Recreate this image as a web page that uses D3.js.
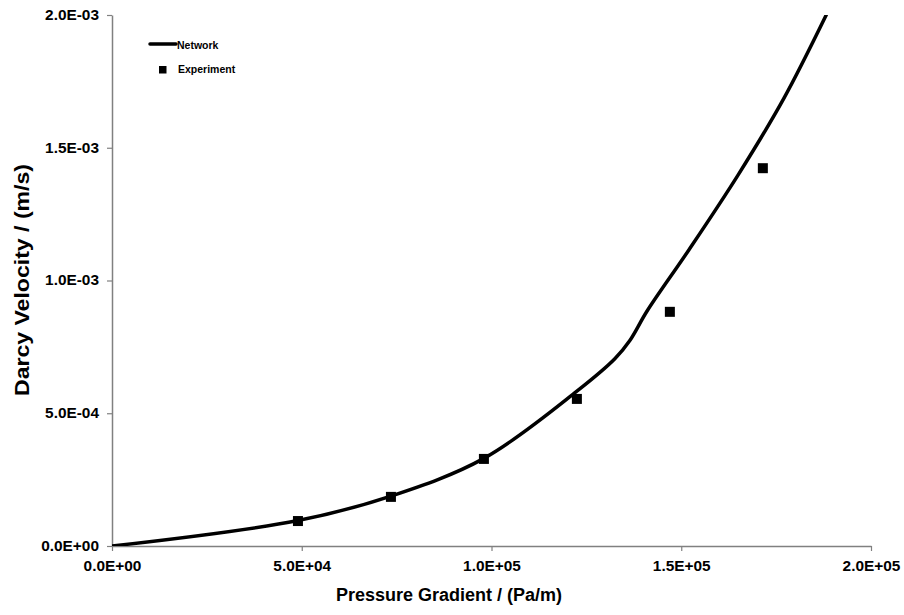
<!DOCTYPE html>
<html>
<head>
<meta charset="utf-8">
<script src="https://cdn.jsdelivr.net/npm/d3@7"></script>
<style>
  html, body { margin: 0; padding: 0; background: #fff; }
  text { font-family: "Liberation Sans", Arial, sans-serif; font-weight: bold; fill: #000; }
</style>
</head>
<body>
<svg id="chart" width="904" height="615"></svg>
<script>
// ---- data ----
const xTickValues = [0, 50000, 100000, 150000, 200000];
const xTickLabels = ["0.0E+00", "5.0E+04", "1.0E+05", "1.5E+05", "2.0E+05"];
const yTickValues = [0, 0.0005, 0.001, 0.0015, 0.002];
const yTickLabels = ["0.0E+00", "5.0E-04", "1.0E-03", "1.5E-03", "2.0E-03"];

const networkX = [0, 49000, 73500, 98000, 122500, 132500, 136500, 141000, 152000, 165000, 177000, 188200];
const networkY = [0, 0.000096, 0.000188, 0.00033, 0.000583, 0.000705, 0.000775, 0.000885, 0.001115, 0.001398, 0.001685, 0.002];

const expX = [49000, 73500, 98000, 122500, 147000, 171500];
const expY = [0.000094, 0.000185, 0.000328, 0.000554, 0.000882, 0.001423];

const seriesNames = ["Network", "Experiment"];
const xTitle = "Pressure Gradient / (Pa/m)";
const yTitle = "Darcy Velocity / (m/s)";

// ---- layout ----
const svg = d3.select("#chart");
const x = d3.scaleLinear().domain([0, 200000]).range([112, 871]);
const y = d3.scaleLinear().domain([0, 0.002]).range([546, 15]);
const axisColor = "#808080";

svg.append("defs").append("clipPath").attr("id", "plotclip")
  .append("rect").attr("x", 112).attr("y", 15).attr("width", 759).attr("height", 531);

// x axis
const xAxis = d3.axisBottom(x).tickValues(xTickValues)
  .tickFormat((d, i) => xTickLabels[i]).tickSizeInner(5).tickSizeOuter(0).tickPadding(10);
const gx = svg.append("g").attr("transform", `translate(0,${y(0)})`).call(xAxis);
gx.select(".domain").attr("stroke", axisColor).attr("stroke-width", 1.5);
gx.selectAll(".tick line").attr("stroke", axisColor).attr("stroke-width", 1.2);
gx.selectAll(".tick text").attr("font-size", 14).attr("font-family", null).attr("fill", "#000").attr("dy", "0.71em");

// y axis
const yAxis = d3.axisLeft(y).tickValues(yTickValues)
  .tickFormat((d, i) => yTickLabels[i]).tickSizeInner(5).tickSizeOuter(0).tickPadding(8);
const gy = svg.append("g").attr("transform", `translate(${x(0)},0)`).call(yAxis);
gy.select(".domain").attr("stroke", axisColor).attr("stroke-width", 1.5);
gy.selectAll(".tick line").attr("stroke", axisColor).attr("stroke-width", 1.2);
gy.selectAll(".tick text").attr("font-size", 14).attr("font-family", null).attr("fill", "#000");

// widen tick labels slightly to match reference
svg.selectAll(".tick text").each(function() {
  const w = this.getComputedTextLength();
  d3.select(this).attr("textLength", w * 1.1).attr("lengthAdjust", "spacingAndGlyphs");
});

// titles
svg.append("text").attr("x", 449).attr("y", 601).attr("text-anchor", "middle")
  .attr("font-size", 18).text(xTitle);
svg.append("text").attr("transform", "translate(29,280) rotate(-90)").attr("text-anchor", "middle")
  .attr("font-size", 20).attr("textLength", 232).attr("lengthAdjust", "spacingAndGlyphs").text(yTitle);

// network line
const netData = networkX.map((v, i) => [v, networkY[i]]);
const line = d3.line().x(d => x(d[0])).y(d => y(d[1])).curve(d3.curveCatmullRom.alpha(0.5));
svg.append("path").datum(netData).attr("clip-path", "url(#plotclip)")
  .attr("d", line).attr("fill", "none").attr("stroke", "#000").attr("stroke-width", 3.5)
  .attr("stroke-linejoin", "round").attr("stroke-linecap", "round");

// experiment markers
const expData = expX.map((v, i) => [v, expY[i]]);
const ms = 10;
svg.append("g").selectAll("rect").data(expData).join("rect")
  .attr("x", d => x(d[0]) - ms / 2).attr("y", d => y(d[1]) - ms / 2)
  .attr("width", ms).attr("height", ms).attr("fill", "#000");

// legend
const lg = svg.append("g");
lg.append("line").attr("x1", 150).attr("x2", 176).attr("y1", 44).attr("y2", 44)
  .attr("stroke", "#000").attr("stroke-width", 3.5).attr("stroke-linecap", "round");
lg.append("text").attr("x", 177).attr("y", 48.5).attr("font-size", 10.5).text(seriesNames[0]);
lg.append("rect").attr("x", 159).attr("y", 66).attr("width", 7.5).attr("height", 7.5).attr("fill", "#000");
lg.append("text").attr("x", 178).attr("y", 73).attr("font-size", 10.5).text(seriesNames[1]);
</script>
</body>
</html>
